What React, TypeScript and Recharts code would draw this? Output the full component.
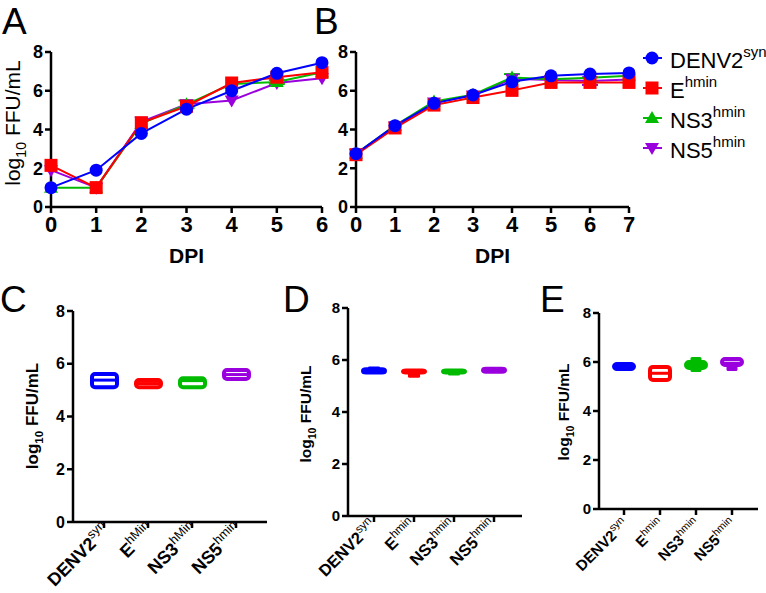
import React from "react";
import { LineChart, Line, XAxis, YAxis, ErrorBar, BarChart, Bar } from "recharts";

const FONT = '"Liberation Sans", Arial, sans-serif';

// series shared by all panels
const seriesNames = ["DENV2", "E", "NS3", "NS5"];
const seriesSup = ["syn", "hmin", "hmin", "hmin"];
const seriesColors = ["#0000ff", "#ff0000", "#00bb00", "#9900dd"];
const seriesMarkers = ["circle", "square", "up", "down"];

// panel A: growth curve
const daysA = [0, 1, 2, 3, 4, 5, 6];
const denvA = [1.0, 1.9, 3.8, 5.05, 6.0, 6.9, 7.45];
const envA = [2.15, 1.0, 4.35, 5.2, 6.4, 6.7, 6.95];
const ns3A = [1.0, 1.0, 4.3, 5.3, 6.35, 6.45, 6.95];
const ns5A = [1.9, 1.0, 4.4, 5.3, 5.5, 6.4, 6.65];
const ns3ErrA = [0, 0, 0, 0.2, 0, 0.1, 0];

// panel B: growth curve
const daysB = [0, 1, 2, 3, 4, 5, 6, 7];
const denvB = [2.75, 4.2, 5.35, 5.78, 6.46, 6.77, 6.86, 6.92];
const envB = [2.7, 4.08, 5.26, 5.65, 6.02, 6.43, 6.43, 6.43];
const ns3B = [2.75, 4.2, 5.45, 5.8, 6.68, 6.6, 6.67, 6.77];
const ns5B = [2.75, 4.15, 5.4, 5.75, 6.62, 6.55, 6.5, 6.58];
const ns3ErrB = [0, 0, 0, 0, 0.18, 0, 0, 0];
const ns5ErrB = [0, 0, 0, 0, 0, 0, 0.2, 0];

const yTicks = [0, 2, 4, 6, 8];

// panel C box stats
const supC = ["syn", "hMin", "hMin", "hmin"];
const minC = [5.11, 5.11, 5.11, 5.42];
const q1C = [5.11, 5.11, 5.11, 5.42];
const medC = [5.38, 5.25, 5.36, 5.59];
const q3C = [5.61, 5.38, 5.45, 5.76];
const maxC = [5.61, 5.38, 5.45, 5.76];

// panel D box stats
const supD = ["syn", "hmin", "hmin", "hmin"];
const minD = [5.5, 5.32, 5.4, 5.52];
const q1D = [5.52, 5.52, 5.52, 5.55];
const medD = [5.58, 5.56, 5.56, 5.6];
const q3D = [5.64, 5.6, 5.6, 5.66];
const maxD = [5.75, 5.6, 5.6, 5.7];

// panel E box stats
const supE = ["syn", "hmin", "hmin", "hmin"];
const minE = [5.71, 5.27, 5.59, 5.63];
const q1E = [5.71, 5.27, 5.76, 5.88];
const medE = [5.8, 5.54, 5.88, 5.95];
const q3E = [5.92, 5.8, 6.0, 6.12];
const maxE = [5.92, 5.8, 6.2, 6.12];

const curveTable = (days: number[], cols: number[][], errs: Record<string, number[]>) =>
  days.map((d, i) => {
    const row: any = { day: d, s0: cols[0][i], s1: cols[1][i], s2: cols[2][i], s3: cols[3][i] };
    Object.keys(errs).forEach((k) => (row[k] = errs[k][i]));
    return row;
  });

const tableA = curveTable(daysA, [denvA, envA, ns3A, ns5A], { e2: ns3ErrA });
const tableB = curveTable(daysB, [denvB, envB, ns3B, ns5B], { e2: ns3ErrB, e3: ns5ErrB });

const boxTable = (mins: number[], q1: number[], med: number[], q3: number[], maxs: number[]) =>
  seriesNames.map((n, i) => ({ name: n, min: mins[i], q1: q1[i], med: med[i], q3: q3[i], max: maxs[i] }));

const tableC = boxTable(minC, q1C, medC, q3C, maxC);
const tableD = boxTable(minD, q1D, medD, q3D, maxD);
const tableE = boxTable(minE, q1E, medE, q3E, maxE);

function Marker({ cx, cy, kind, color }: any) {
  if (cx == null || cy == null) return null;
  if (kind === "circle") return <circle cx={cx} cy={cy} r={6.5} fill={color} />;
  if (kind === "square") return <rect x={cx - 6.5} y={cy - 6.5} width={13} height={13} fill={color} />;
  if (kind === "up")
    return <polygon points={`${cx},${cy - 7} ${cx - 7},${cy + 5} ${cx + 7},${cy + 5}`} fill={color} />;
  return <polygon points={`${cx},${cy + 7} ${cx - 7},${cy - 5} ${cx + 7},${cy - 5}`} fill={color} />;
}

const makeDot = (i: number) => (p: any) =>
  <Marker key={`d${i}-${p.index}`} cx={p.cx} cy={p.cy} kind={seriesMarkers[i]} color={seriesColors[i]} />;

const axisLine = { stroke: "#000", strokeWidth: 2.5 };

function CurvePanel({ data, days, width, height, margin, yWidth, errKeys }: any) {
  // draw order: NS5, NS3, E, DENV2 (blue on top)
  const order = [3, 2, 1, 0];
  return (
    <LineChart width={width} height={height} data={data} margin={margin}>
      <XAxis
        dataKey="day"
        type="number"
        domain={[days[0], days[days.length - 1]]}
        ticks={days}
        height={63}
        axisLine={axisLine}
        tickLine={axisLine}
        tickSize={6}
        tickMargin={3}
        tick={{ fill: "#000", fontSize: 22, fontWeight: "bold", fontFamily: FONT }}
        label={{ value: "DPI", position: "insideBottom", offset: 7, fill: "#000", fontSize: 21, fontWeight: "bold", fontFamily: FONT }}
      />
      <YAxis
        domain={[0, 8]}
        ticks={yTicks}
        width={yWidth}
        axisLine={axisLine}
        tickLine={axisLine}
        tickSize={6}
        tickMargin={2}
        tick={{ fill: "#000", fontSize: 18, fontWeight: "bold", fontFamily: FONT }}
      />
      {order.map((i) => (
        <Line
          key={i}
          dataKey={`s${i}`}
          stroke={seriesColors[i]}
          strokeWidth={2}
          dot={makeDot(i)}
          activeDot={false}
          isAnimationActive={false}
        >
          {errKeys[i] ? (
            <ErrorBar dataKey={errKeys[i]} width={8} strokeWidth={2} stroke={seriesColors[i]} direction="y" />
          ) : null}
        </Line>
      ))}
    </LineChart>
  );
}

function BoxShape(props: any) {
  const { x, y, width, height, payload, index } = props;
  const color = seriesColors[index];
  const top = Math.min(y, y + height);
  const h = Math.abs(height);
  const span = payload.max - payload.min;
  const py = (v: number) => top + ((payload.max - v) / span) * h;
  const cx = x + width / 2;
  const ww = width * 0.55;
  const yMax = py(payload.max);
  const yMin = py(payload.min);
  const yq3 = py(payload.q3);
  const yq1 = py(payload.q1);
  const ym = py(payload.med);
  return (
    <g>
      {yq3 - yMax > 0.5 && <rect x={cx - ww / 2} y={yMax} width={ww} height={yq3 - yMax} fill={color} rx={1.5} />}
      {yMin - yq1 > 0.5 && <rect x={cx - ww / 2} y={yq1} width={ww} height={yMin - yq1} fill={color} rx={1.5} />}
      <rect x={x} y={yq3} width={width} height={Math.max(yq1 - yq3, 0.5)} fill="#fff" stroke={color} strokeWidth={4} rx={3} />
      <line x1={x} x2={x + width} y1={ym} y2={ym} stroke={color} strokeWidth={3} />
    </g>
  );
}

function makeCatTick(sups: string[], fs: number, dx: number, dy: number) {
  return (p: any) => {
    const idx = p.index ?? 0;
    return (
      <g transform={`translate(${p.x + dx},${p.y + dy}) rotate(-45)`}>
        <text x={0} y={0} textAnchor="end" fontFamily={FONT} fontWeight="bold" fontSize={fs} fill="#000">
          {seriesNames[idx]}
          <tspan dy={-fs * 0.42} fontSize={fs * 0.7} fontWeight="normal">
            {sups[idx]}
          </tspan>
        </text>
      </g>
    );
  };
}

function BoxPanel({ data, sups, width, height, margin, yWidth, xHeight, barSize, padding, tickFs, tickDx, tickDy, yFs }: any) {
  return (
    <BarChart width={width} height={height} data={data} margin={margin}>
      <XAxis
        dataKey="name"
        height={xHeight}
        padding={padding}
        axisLine={axisLine}
        tickLine={axisLine}
        tickSize={6}
        interval={0}
        tick={makeCatTick(sups, tickFs, tickDx, tickDy)}
      />
      <YAxis
        domain={[0, 8]}
        ticks={yTicks}
        width={yWidth}
        axisLine={axisLine}
        tickLine={axisLine}
        tickSize={6}
        tickMargin={2}
        tick={{ fill: "#000", fontSize: yFs, fontWeight: "bold", fontFamily: FONT }}
      />
      <Bar
        dataKey={(d: any) => [d.min, d.max]}
        barSize={barSize}
        shape={BoxShape}
        isAnimationActive={false}
      />
    </BarChart>
  );
}

function YLabel({ x, y, fs, bold }: any) {
  return (
    <text
      transform={`translate(${x},${y}) rotate(-90)`}
      textAnchor="middle"
      fontSize={fs}
      fontWeight={bold ? "bold" : "normal"}
      fontFamily={FONT}
      fill="#000"
    >
      log<tspan dy={fs * 0.3} fontSize={fs * 0.68}>10</tspan>
      <tspan dy={-fs * 0.3}> FFU/mL</tspan>
    </text>
  );
}

function Overlay() {
  const letter = { fontSize: 37, fontFamily: FONT, fill: "#000" };
  return (
    <svg width={766} height={593} style={{ position: "absolute", left: 0, top: 0, pointerEvents: "none" }}>
      <text x={2} y={34} {...letter}>A</text>
      <text x={314} y={34} {...letter}>B</text>
      <text x={0} y={312} {...letter}>C</text>
      <text x={283} y={312} {...letter}>D</text>
      <text x={540} y={312} {...letter}>E</text>
      <YLabel x={20} y={123} fs={21} />
      <YLabel x={38} y={416} fs={17} bold />
      <YLabel x={311} y={414} fs={15.5} bold />
      <YLabel x={569} y={412} fs={15.5} bold />
      {seriesNames.map((n, i) => {
        const cy = 58 + i * 30;
        return (
          <g key={n}>
            <line x1={643} x2={662} y1={cy} y2={cy} stroke={seriesColors[i]} strokeWidth={2} />
            <Marker cx={652} cy={cy} kind={seriesMarkers[i]} color={seriesColors[i]} />
            <text x={670} y={cy + 10} fontSize={22} fontFamily={FONT} fill="#000">
              {n}
              <tspan dy={-11} fontSize={15}>{seriesSup[i]}</tspan>
            </text>
          </g>
        );
      })}
    </svg>
  );
}

export default function App() {
  return (
    <div style={{ position: "absolute", left: 0, top: 0, width: 766, height: 593, background: "#fff", overflow: "hidden" }}>
      <div style={{ position: "absolute", left: 0, top: 0 }}>
        <CurvePanel
          data={tableA}
          days={daysA}
          width={340}
          height={270}
          margin={{ top: 52, right: 18, bottom: 0, left: 0 }}
          yWidth={51}
          errKeys={[null, null, "e2", null]}
        />
      </div>
      <div style={{ position: "absolute", left: 300, top: 0 }}>
        <CurvePanel
          data={tableB}
          days={daysB}
          width={340}
          height={270}
          margin={{ top: 52, right: 11, bottom: 0, left: 0 }}
          yWidth={56}
          errKeys={[null, null, "e2", "e3"]}
        />
      </div>
      <div style={{ position: "absolute", left: 0, top: 280 }}>
        <BoxPanel
          data={tableC}
          sups={supC}
          width={280}
          height={313}
          margin={{ top: 31, right: 13, bottom: 0, left: 0 }}
          yWidth={73}
          xHeight={71}
          barSize={25}
          padding={{ left: 9, right: 9 }}
          tickFs={18}
          tickDx={7}
          tickDy={1}
          yFs={16}
        />
      </div>
      <div style={{ position: "absolute", left: 270, top: 280 }}>
        <BoxPanel
          data={tableD}
          sups={supD}
          width={270}
          height={313}
          margin={{ top: 28, right: 18, bottom: 0, left: 0 }}
          yWidth={78}
          xHeight={77}
          barSize={22}
          padding={{ left: 6, right: 8 }}
          tickFs={16.5}
          tickDx={3}
          tickDy={2}
          yFs={15}
        />
      </div>
      <div style={{ position: "absolute", left: 530, top: 280 }}>
        <BoxPanel
          data={tableE}
          sups={supE}
          width={236}
          height={313}
          margin={{ top: 33, right: 8, bottom: 0, left: 0 }}
          yWidth={69}
          xHeight={84}
          barSize={20}
          padding={{ left: 7, right: 8 }}
          tickFs={15}
          tickDx={5}
          tickDy={8}
          yFs={15}
        />
      </div>
      <Overlay />
    </div>
  );
}
